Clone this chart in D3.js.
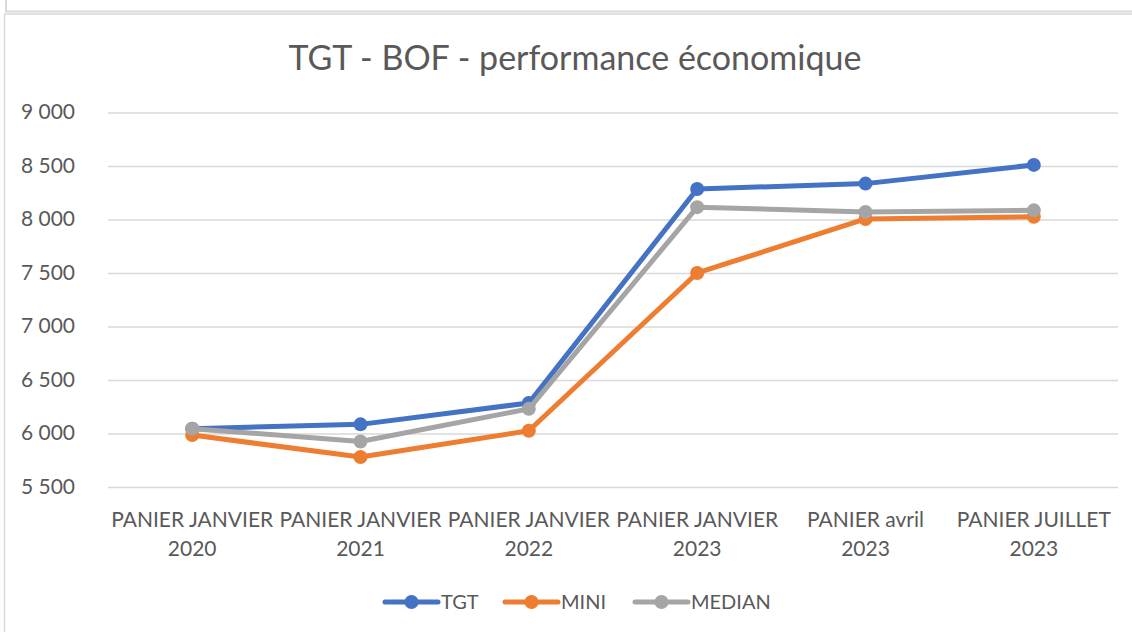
<!DOCTYPE html>
<html>
<head>
<meta charset="utf-8">
<script src="https://cdn.jsdelivr.net/npm/d3@7"></script>
<style>
  body { margin: 0; background: #fff; }
  svg text { font-family: Lato, "Noto Sans", sans-serif; fill: #595959; }
</style>
</head>
<body>
<svg width="1132" height="632"></svg>
<script>
'use strict';
var categories = [
  ['PANIER JANVIER', '2020'],
  ['PANIER JANVIER', '2021'],
  ['PANIER JANVIER', '2022'],
  ['PANIER JANVIER', '2023'],
  ['PANIER avril', '2023'],
  ['PANIER JUILLET', '2023']
];
var tgt = [6050, 6090, 6290, 8290, 8340, 8515];
var mini = [5990, 5785, 6030, 7505, 8010, 8030];
var median = [6050, 5930, 6235, 8120, 8075, 8090];
var yTicks = [5500, 6000, 6500, 7000, 7500, 8000, 8500, 9000];
var title = 'TGT - BOF - performance économique';

var series = [
  { name: 'TGT', values: tgt, color: '#4472C4' },
  { name: 'MINI', values: mini, color: '#ED7D31' },
  { name: 'MEDIAN', values: median, color: '#A5A5A5' }
];

var svg = d3.select('svg');

// frames (previous box edge + chart area)
svg.append('path')
  .attr('d', 'M6,0 V11.5 H1132')
  .attr('fill', 'none')
  .attr('stroke', '#d9d9d9')
  .attr('stroke-width', 2);
svg.append('path')
  .attr('d', 'M4.5,632 V14 H1132')
  .attr('fill', 'none')
  .attr('stroke', '#d9d9d9')
  .attr('stroke-width', 1.5);

svg.append('text')
  .attr('x', 575)
  .attr('y', 70)
  .attr('text-anchor', 'middle')
  .style('font-size', '34px')
  .text(title);

var x = d3.scaleBand()
  .domain(d3.range(categories.length))
  .range([108, 1118]);
var y = d3.scaleLinear()
  .domain([5500, 9000])
  .range([487.5, 113]);

// gridlines
svg.append('g')
  .selectAll('line').data(yTicks)
  .enter().append('line')
    .attr('x1', 108)
    .attr('x2', 1118)
    .attr('y1', d => y(d))
    .attr('y2', d => y(d))
    .attr('stroke', '#d9d9d9')
    .attr('stroke-width', 1.5);

var fmt = d => d3.format(',')(d).replace(',', ' ');

svg.append('g')
  .selectAll('text').data(yTicks)
  .enter().append('text')
    .attr('x', 75)
    .attr('y', d => y(d))
    .attr('dy', '0.3em')
    .attr('text-anchor', 'end')
    .style('font-size', '21px')
    .text(fmt);

var cat = svg.append('g')
  .selectAll('text').data(categories)
  .enter().append('text')
    .attr('text-anchor', 'middle')
    .style('font-size', '21px');
cat.append('tspan')
  .attr('x', (d, i) => x(i) + x.bandwidth() / 2)
  .attr('y', 527)
  .text(d => d[0]);
cat.append('tspan')
  .attr('x', (d, i) => x(i) + x.bandwidth() / 2)
  .attr('y', 556)
  .text(d => d[1]);

var line = d3.line()
  .x((d, i) => x(i) + x.bandwidth() / 2)
  .y(d => y(d));

var sg = svg.append('g')
  .selectAll('g.series').data(series)
  .enter().append('g')
    .attr('class', 'series');
sg.append('path')
  .attr('d', d => line(d.values))
  .attr('fill', 'none')
  .attr('stroke', d => d.color)
  .attr('stroke-width', 5)
  .attr('stroke-linejoin', 'round')
  .attr('stroke-linecap', 'round');
sg.each(function(s) {
  d3.select(this).selectAll('circle').data(s.values)
    .enter().append('circle')
      .attr('cx', (d, i) => x(i) + x.bandwidth() / 2)
      .attr('cy', d => y(d))
      .attr('r', 7)
      .attr('fill', s.color);
});

// legend
var legendX = [383, 503, 633];
var lg = svg.append('g')
  .selectAll('g').data(series)
  .enter().append('g')
    .attr('transform', (d, i) => `translate(${legendX[i]}, 602)`);
lg.append('line')
  .attr('x1', 2).attr('x2', 55)
  .attr('stroke', d => d.color)
  .attr('stroke-width', 5)
  .attr('stroke-linecap', 'round');
lg.append('circle')
  .attr('cx', 28.5)
  .attr('r', 7)
  .attr('fill', d => d.color);
lg.append('text')
  .attr('x', 58)
  .attr('dy', '0.36em')
  .style('font-size', '20px')
  .text(d => d.name);
</script>
</body>
</html>
